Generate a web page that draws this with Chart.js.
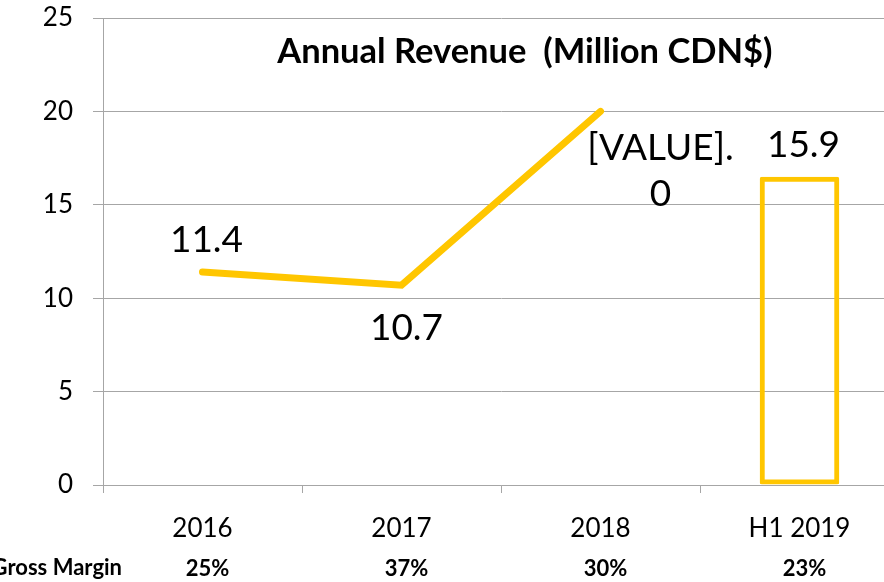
<!DOCTYPE html>
<html>
<head>
<meta charset="utf-8">
<script src="https://cdn.jsdelivr.net/npm/chart.js@4"></script>
<style>
  html, body { margin: 0; padding: 0; background: #fff; overflow: hidden; }
  #wrap { position: absolute; left: 0; top: 0; width: 900px; height: 582px; }
</style>
</head>
<body>
<div id="wrap"><canvas id="revenue" width="900" height="582"></canvas></div>
<script>
const categories = ['2016', '2017', '2018', 'H1 2019'];
const revenueLine = [11.4, 10.7, 20.0, null];
const revenueBar = [null, null, null, 16.5];
const valueLabels = ['11.4', '10.7', '[VALUE].\n0', '15.9'];
const grossMargin = ['25%', '37%', '30%', '23%'];
const yTicks = [0, 5, 10, 15, 20, 25];

const gold = '#FFC600';
const gridGray = '#A6A6A6';
const font = 'Lato, "DejaVu Sans", sans-serif';

// where each value label sits relative to its mark
const labelPlace = ['above', 'below', 'right', 'above'];

const overlay = {
  id: 'overlay',
  afterDatasetsDraw(chart) {
    const ctx = chart.ctx;
    const area = chart.chartArea;
    const x = chart.scales.x;
    ctx.save();
    ctx.fillStyle = '#000';

    // title inside the plot
    ctx.font = 'bold 34.5px ' + font;
    ctx.textAlign = 'center';
    ctx.textBaseline = 'middle';
    ctx.fillText('Annual Revenue  (Million CDN$)', area.left + area.width * 0.53, area.top + 34);

    // value labels
    ctx.font = '37px ' + font;
    const lineMeta = chart.getDatasetMeta(0);
    const barMeta = chart.getDatasetMeta(1);
    valueLabels.forEach((txt, i) => {
      const el = revenueLine[i] != null ? lineMeta.data[i] : barMeta.data[i];
      const px = el.x, py = el.y;
      const lines = txt.split('\n');
      const place = labelPlace[i];
      lines.forEach((ln, k) => {
        let lx = px, ly = py;
        if (place === 'above') { lx += 4; ly -= 32; }
        if (place === 'below') { lx += 5; ly += 43; }
        if (place === 'right') { lx += 60; ly += 37 + k * 46; }
        ctx.fillText(ln, lx, ly);
      });
    });

    // gross margin row
    ctx.font = 'bold 22px ' + font;
    ctx.textAlign = 'right';
    ctx.fillText('Gross Margin', 122, 568);
    ctx.textAlign = 'center';
    grossMargin.forEach((g, i) => {
      ctx.fillText(g, x.getPixelForValue(i) + 5, 569);
    });
    ctx.restore();
  }
};

new Chart(document.getElementById('revenue'), {
  data: {
    labels: categories,
    datasets: [
      {
        type: 'line',
        data: revenueLine,
        borderColor: gold,
        borderWidth: 7,
        borderCapStyle: 'round',
        borderJoinStyle: 'miter',
        pointRadius: 0,
        tension: 0
      },
      {
        type: 'bar',
        data: revenueBar,
        backgroundColor: 'rgba(255,255,255,0)',
        borderColor: gold,
        borderWidth: 5,
        borderSkipped: false,
        borderRadius: 2,
        barPercentage: 0.4,
        categoryPercentage: 1
      }
    ]
  },
  options: {
    responsive: false,
    devicePixelRatio: 1,
    animation: false,
    layout: { padding: { top: 18, right: 1, left: 0, bottom: 0 } },
    plugins: {
      legend: { display: false },
      tooltip: { enabled: false },
      title: { display: false }
    },
    scales: {
      x: {
        offset: true,
        grid: {
          offset: true,
          drawOnChartArea: false,
          drawTicks: true,
          tickLength: 8,
          color: gridGray
        },
        border: { color: gridGray, width: 1 },
        ticks: {
          color: '#000',
          font: { family: font, size: 26 },
          padding: 20,
          maxRotation: 0
        },
        afterFit(scale) { scale.height = 97; scale.paddingLeft = 0; scale.paddingRight = 0; }
      },
      y: {
        min: yTicks[0],
        max: yTicks[yTicks.length - 1],
        afterBuildTicks(scale) { scale.ticks = yTicks.map(v => ({ value: v })); },
        grid: {
          color: gridGray,
          lineWidth: 1,
          drawTicks: true,
          tickLength: 10
        },
        border: { color: gridGray, width: 1 },
        ticks: {
          color: '#000',
          font: { family: font, size: 26 },
          padding: 20
        },
        afterFit(scale) { scale.width = 103; scale.paddingTop = 0; scale.paddingBottom = 0; }
      }
    }
  },
  plugins: [overlay]
});
</script>
</body>
</html>
